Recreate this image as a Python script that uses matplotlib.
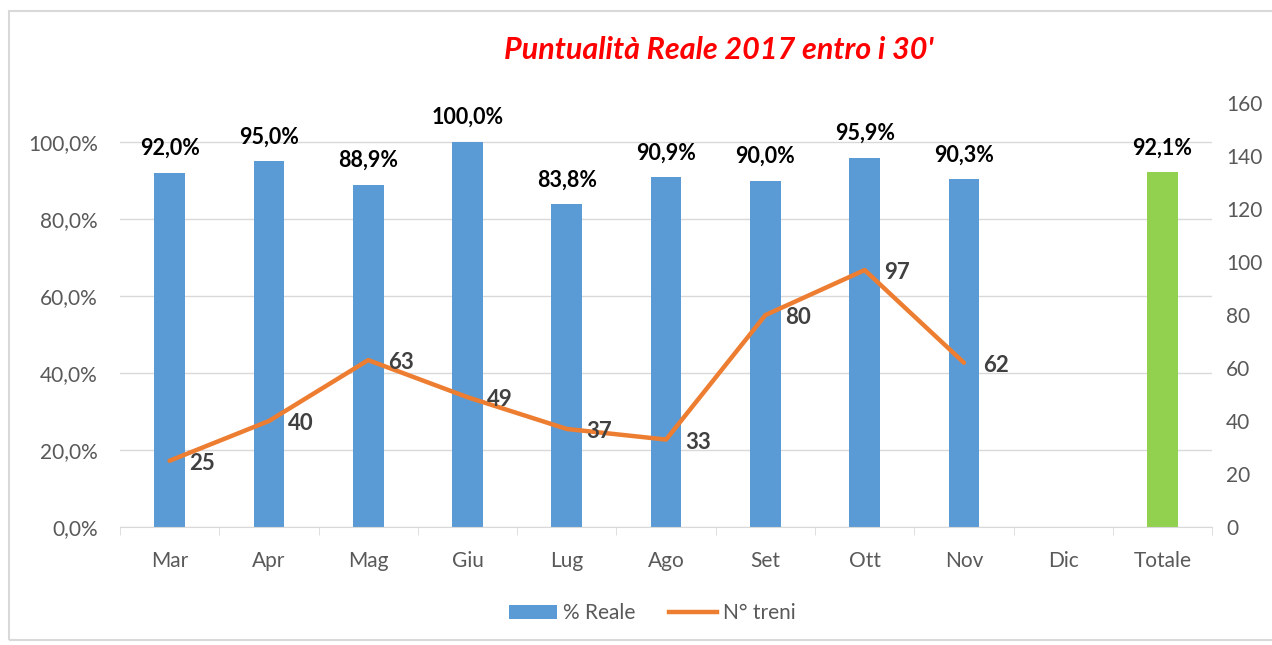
import numpy as np
import matplotlib.pyplot as plt
from matplotlib.patches import Patch, Rectangle
from matplotlib.lines import Line2D

plt.rcParams['font.family'] = ['Lato', 'DejaVu Sans']

mesi = ["Mar", "Apr", "Mag", "Giu", "Lug", "Ago", "Set", "Ott", "Nov", "Dic", "Totale"]
reale = [92.0, 95.0, 88.9, 100.0, 83.8, 90.9, 90.0, 95.9, 90.3, None, 92.1]
treni = [25, 40, 63, 49, 37, 33, 80, 97, 62]

BLU = "#5B9BD5"
ARANCIO = "#ED7D31"
VERDE = "#92D050"
GRIGIO = "#595959"

fig = plt.figure(figsize=(12.72, 6.45), dpi=100)
ax = fig.add_axes([0.0943, 0.183, 0.8587, 0.657])

x = np.arange(len(mesi))

#
# barre
#
for i, v in enumerate(reale):
    if v is None:
        continue
    col = VERDE if mesi[i] == "Totale" else BLU
    ax.bar(x[i], v / 100, width=0.31, color=col, zorder=2)
    ax.annotate(f"{v:.1f}%".replace(".", ","), (x[i], v / 100),
                xytext=(0, 10), textcoords="offset points",
                ha="center", va="bottom", fontsize=15.5, fontweight="bold",
                color="black")

ax.set_xlim(-0.5, len(mesi) - 0.5)
ax.set_ylim(0, 1.101)
ax.set_yticks(np.arange(0, 1.01, 0.2))
ax.set_yticklabels([f"{t*100:.1f}%".replace(".", ",") for t in np.arange(0, 1.01, 0.2)])
ax.yaxis.grid(True, color="#D9D9D9", linewidth=1, zorder=0)
ax.set_axisbelow(True)

ax.set_xticks(x)
ax.set_xticklabels(mesi)
ax.set_xticks(np.arange(-0.5, len(mesi), 1), minor=True)
ax.tick_params(axis="x", which="major", length=0, pad=17, labelsize=15, labelcolor=GRIGIO)
ax.tick_params(axis="x", which="minor", length=6, color="#D9D9D9")
ax.tick_params(axis="y", length=0, pad=16, labelsize=15, labelcolor=GRIGIO)

for s in ["top", "right", "left"]:
    ax.spines[s].set_visible(False)
ax.spines["bottom"].set_color("#D9D9D9")

#
# linea treni
#
ax2 = ax.twinx()
ax2.plot(x[:len(treni)], treni, color=ARANCIO, linewidth=3.2, zorder=3,
         solid_capstyle="round", solid_joinstyle="round")
for xi, t in zip(x, treni):
    ax2.annotate(str(t), (xi, t), xytext=(14, -2), textcoords="offset points",
                 ha="left", va="center", fontsize=16, fontweight="bold",
                 color="#404040")
ax2.set_ylim(0, 160)
ax2.set_yticks(np.arange(0, 161, 20))
ax2.tick_params(axis="y", length=0, pad=10, labelsize=15, labelcolor=GRIGIO)
for s in ax2.spines.values():
    s.set_visible(False)

fig.text(0.565, 0.922, "Puntualità Reale 2017 entro i 30'", color="red",
         fontsize=22, fontweight="bold", fontstyle="italic", ha="center", va="center")

handles = [Patch(facecolor=BLU, label="% Reale"),
           Line2D([0], [0], color=ARANCIO, linewidth=3.2, label="N° treni")]
fig.legend(handles=handles, loc="center", bbox_to_anchor=(0.513, 0.049), ncol=2,
           frameon=False, fontsize=15, labelcolor=GRIGIO, handlelength=2.3,
           handletextpad=0.3, columnspacing=1.6)

fig.patches.append(Rectangle((0.007, 0.008), 1.2, 0.975, transform=fig.transFigure,
                             fill=False, edgecolor="#D9D9D9", linewidth=1.5))

fig.savefig("out.png", dpi=100)
